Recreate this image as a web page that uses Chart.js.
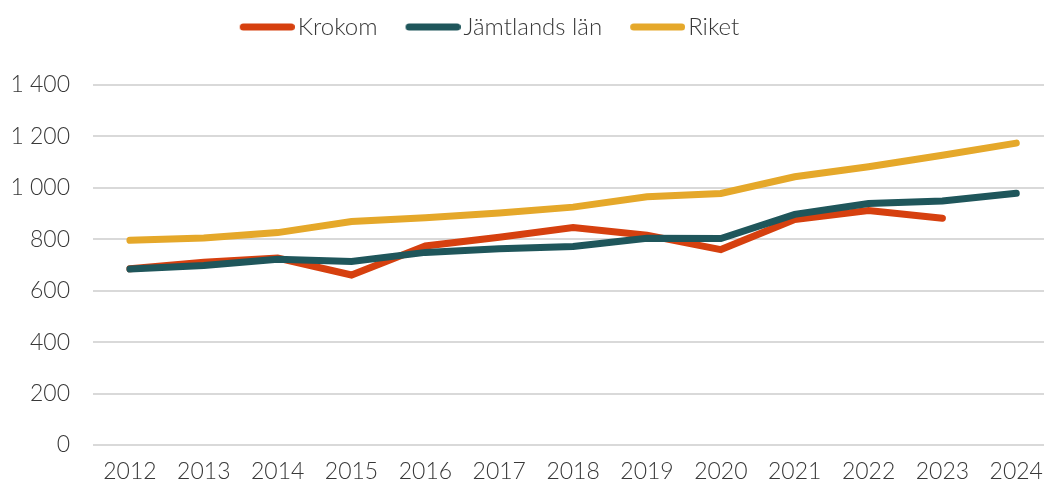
<!DOCTYPE html>
<html>
<head>
<meta charset="utf-8">
<script src="https://cdn.jsdelivr.net/npm/chart.js@4"></script>
<style>
html,body{margin:0;padding:0;background:#fff;overflow:hidden;width:1044px;height:486px;}
#wrap{position:absolute;left:0;top:0;width:1056px;height:486px;}
</style>
</head>
<body>
<div id="wrap"><canvas id="c"></canvas></div>
<script>
const years = ["2012","2013","2014","2015","2016","2017","2018","2019","2020","2021","2022","2023","2024"];
const krokom = [685, 711, 727, 661, 774, 808, 846, 816, 760, 877, 912, 882, null];
const jamtland = [684, 698, 722, 714, 749, 763, 772, 804, 803, 897, 939, 949, 979];
const riket = [796, 805, 826, 869, 884, 902, 925, 965, 978, 1043, 1082, 1127, 1174];
const seriesNames = ["Krokom", "Jämtlands län", "Riket"];
const colors = ["#D6400F", "#1F565B", "#E5A82A"];
const drawOrder = [1, 0, 2];
const yTicks = [0, 200, 400, 600, 800, 1000, 1200, 1400];

const fontFamily = "Lato, 'Open Sans', sans-serif";
const textColor = "#383838";

function fmt(v){ return String(v).replace(/\B(?=(\d{3})+(?!\d))/g, " "); }

// legend swatch: a short thick rounded line
function swatch(color){
  const c = document.createElement('canvas');
  c.width = 82; c.height = 10;
  const g = c.getContext('2d');
  g.strokeStyle = color; g.lineWidth = 7; g.lineCap = 'round';
  g.beginPath(); g.moveTo(27 + 3.5, 5); g.lineTo(82 - 3.5, 5); g.stroke();
  return c;
}

const legendTweak = {
  id: 'legendTweak',
  afterInit(chart){
    const lg = chart.legend;
    const origFit = lg.fit;
    lg.fit = function(){ origFit.call(this); this.height += 36; };
  },
  afterLayout(chart){
    chart.legend.left -= 52;
    chart.legend.right -= 52;
  }
};

new Chart(document.getElementById('c'), {
  type: 'line',
  data: {
    labels: years,
    datasets: [krokom, jamtland, riket].map((d, i) => ({
      label: seriesNames[i],
      data: d,
      order: drawOrder[i],
      borderColor: colors[i],
      backgroundColor: colors[i],
      borderWidth: 7,
      pointRadius: 0,
      pointHoverRadius: 0,
      tension: 0,
      borderCapStyle: 'round',
      borderJoinStyle: 'miter',
      spanGaps: false
    }))
  },
  plugins: [legendTweak],
  options: {
    responsive: true,
    maintainAspectRatio: false,
    animation: false,
    layout: { padding: { left: 10, right: 1, top: 5, bottom: 0 } },
    plugins: {
      tooltip: { enabled: false },
      legend: {
        position: 'top',
        labels: {
          font: { family: fontFamily, size: 24, weight: 300 },
          color: textColor,
          usePointStyle: true,
          pointStyleWidth: 64,
          boxHeight: 10,
          padding: 10,
          generateLabels(chart){
            return chart.data.datasets.map((ds, i) => ({
              text: ds.label,
              fillStyle: ds.borderColor,
              strokeStyle: ds.borderColor,
              lineWidth: 0,
              pointStyle: swatch(ds.borderColor),
              datasetIndex: i,
              fontColor: textColor
            }));
          }
        }
      }
    },
    scales: {
      x: {
        offset: true,
        afterFit(scale){ scale.height = 41; },
        grid: { display: false, drawTicks: false },
        border: { display: false },
        ticks: {
          font: { family: fontFamily, size: 23, weight: 300 },
          color: textColor,
          padding: 13,
          maxRotation: 0,
          autoSkip: false
        }
      },
      y: {
        min: 0,
        max: 1400,
        afterFit(scale){ scale.width = 83; },
        afterBuildTicks(axis){ axis.ticks = yTicks.map(v => ({ value: v })); },
        grid: { color: '#d9d9d9', lineWidth: 2, drawTicks: false },
        border: { display: false },
        ticks: {
          font: { family: fontFamily, size: 23, weight: 300 },
          color: textColor,
          padding: 23,
          callback: v => fmt(v)
        }
      }
    }
  }
});
</script>
</body>
</html>
